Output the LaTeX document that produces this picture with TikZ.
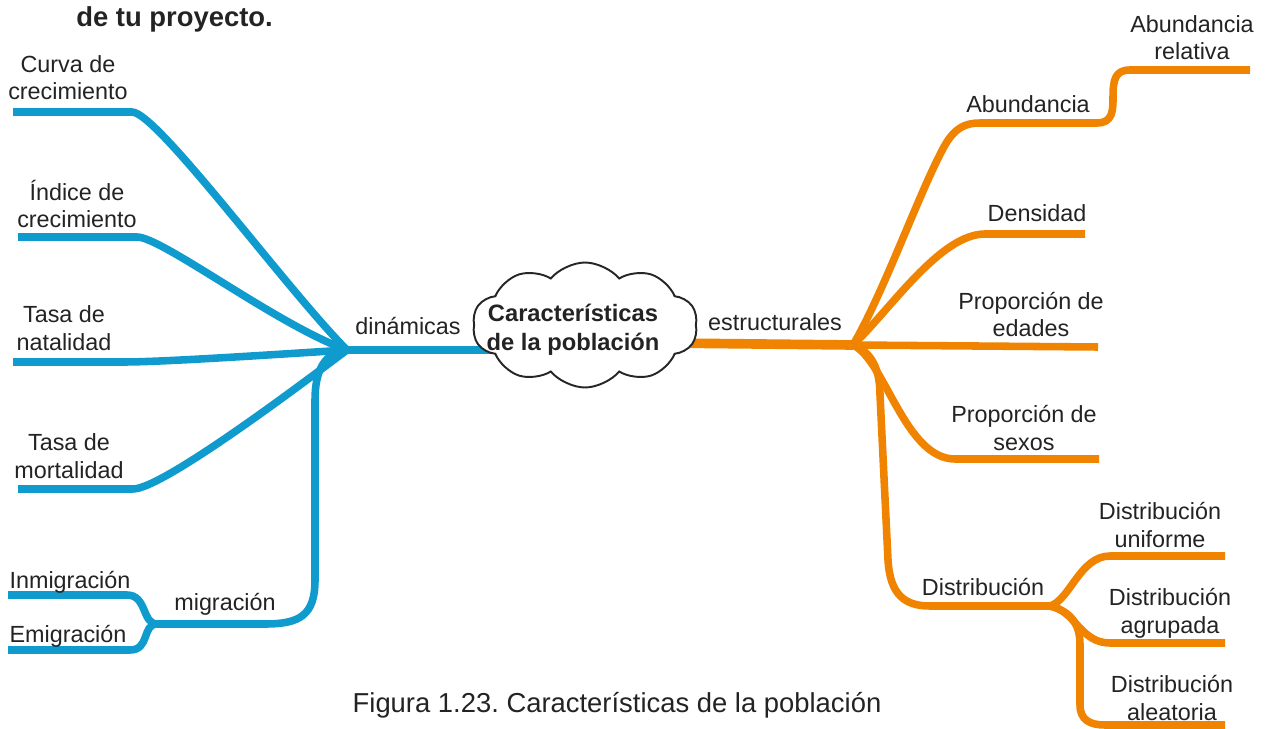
\documentclass[tikz,border=0pt]{standalone}
\usepackage{fontspec}
\setmainfont{Liberation Sans}
\usetikzlibrary{shapes.symbols,backgrounds}
\definecolor{bl}{RGB}{16,155,206}
\definecolor{orn}{RGB}{240,132,0}
\definecolor{txt}{RGB}{35,35,35}
\begin{document}
\frenchspacing
\begin{tikzpicture}[x=0.02cm,y=-0.02cm,
  lbl/.style={font=\fontsize{13.3}{15.9}\selectfont, text=txt, align=center, inner sep=0pt, anchor=base},
  bbr/.style={draw=bl, line width=4.3pt, line join=round},
  obr/.style={draw=orn, line width=4.3pt, line join=round}]
\useasboundingbox (0,0) rectangle (1270,729);

% titles
\node[anchor=base west, inner sep=0pt, font=\fontsize{15.6}{18}\selectfont\bfseries, text=txt] (title) at (76,27) {de tu proyecto.};
\node[anchor=base, inner sep=0pt, font=\fontsize{15.6}{18}\selectfont, text=txt] (cap) at (617,712) {Figura 1.23. Características de la población};

% center
\node[cloud, draw=black!85, fill=white, line width=1.1pt, cloud puffs=10, cloud puff arc=100, aspect=1.8,
      minimum width=4.5cm, minimum height=2.5cm, inner sep=0pt] (cloud) at (585,325) {};
\node[anchor=base, inner sep=0pt, align=center, text=txt,
      font=\fontsize{13.5}{16}\selectfont\bfseries] (ctext) at (573,350) {Características\\de la población};

% labels
\node[lbl] (curva) at (68,100) {Curva de\\crecimiento};
\node[lbl] (indice) at (77,228) {Índice de\\crecimiento};
\node[lbl] (natal) at (64,350) {Tasa de\\natalidad};
\node[lbl] (mortal) at (69,478) {Tasa de\\mortalidad};
\node[lbl] (inmi) at (70,588) {Inmigración};
\node[lbl] (emi) at (68,642) {Emigración};
\node[lbl] (migr) at (225,610) {migración};
\node[lbl] (dina) at (408,335) {dinámicas};
\node[lbl] (estr) at (775,330) {estructurales};
\node[lbl] (abrel) at (1192,60) {Abundancia\\relativa};
\node[lbl] (abun) at (1028,113) {Abundancia};
\node[lbl] (dens) at (1037,222) {Densidad};
\node[lbl] (edad) at (1031,337) {Proporción de\\edades};
\node[lbl] (sexo) at (1024,450) {Proporción de\\sexos};
\node[lbl] (distr) at (983,595) {Distribución};
\node[lbl] (unif) at (1160,547) {Distribución\\uniforme};
\node[lbl] (agru) at (1170,633) {Distribución\\agrupada};
\node[lbl] (alea) at (1172,720) {Distribución\\aleatoria};

% coordinates
\coordinate (hubB) at (347,350);
\coordinate (cL) at (510,350);
\coordinate (b1) at (132,112); \coordinate (b1e) at (13,112);
\coordinate (b2) at (137,237); \coordinate (b2e) at (18,237);
\coordinate (b3) at (123,362); \coordinate (b3e) at (13,362);
\coordinate (b4) at (133,489); \coordinate (b4e) at (18,489);
\coordinate (mhub) at (157,624);
\coordinate (b5) at (127,595); \coordinate (b5e) at (8,595);
\coordinate (b6) at (130,650); \coordinate (b6e) at (8,650);

\coordinate (cR) at (665,343);
\coordinate (hubO) at (853,345);
\coordinate (o1) at (980,123); \coordinate (o1a) at (1097,123);
\coordinate (o1b) at (1130,70); \coordinate (o1e) at (1250,70);
\coordinate (o2) at (985,234); \coordinate (o2e) at (1085,234);
\coordinate (o3e) at (1098,347);
\coordinate (o4) at (955,459); \coordinate (o4e) at (1099,459);
\coordinate (hub2) at (1050,606);
\coordinate (o5) at (1110,556); \coordinate (o5e) at (1225,556);
\coordinate (o6) at (1110,643); \coordinate (o6e) at (1225,643);
\coordinate (o7) at (1105,725); \coordinate (o7e) at (1225,725);

\begin{pgfonlayer}{background}
% blue
\draw[bbr, line width=4.8pt] (hubB) -- (cL);
\draw[bbr] (b1e) -- (b1) .. controls +(25,0) and +(-60,-60) .. (hubB);
\draw[bbr] (b2e) -- (b2) .. controls +(25,0) and +(-70,-25) .. (hubB);
\draw[bbr] (b3e) -- (b3) .. controls +(40,0) and +(-80,5) .. (hubB);
\draw[bbr] (b4e) -- (b4) .. controls +(30,0) and +(-40,30) .. (hubB);
\draw[bbr] (hubB) .. controls (325,352) and (315,370) .. (315,400) -- (315,580) .. controls (315,615) and (300,624) .. (265,624) -- (mhub);
\draw[bbr] (b5e) -- (b5) .. controls +(20,0) and +(-15,0) .. (mhub);
\draw[bbr] (b6e) -- (b6) .. controls +(20,0) and +(-15,0) .. (mhub);
% orange
\draw[obr, line width=5.5pt] (cR) -- (hubO);
\draw[obr] (hubO) .. controls (885,290) and (920,190) .. (945,145) .. controls (955,128) and (965,123) .. (o1) -- (o1a) .. controls (1113,123) and (1113,110) .. (1113,97) .. controls (1113,80) and (1115,70) .. (o1b) -- (o1e);
\draw[obr] (hubO) .. controls (890,310) and (940,234) .. (o2) -- (o2e);
\draw[obr] (hubO) -- (o3e);
\draw[obr] (hubO) .. controls (885,360) and (905,459) .. (o4) -- (o4e);
\draw[obr] (hubO) .. controls (872,352) and (880,370) .. (880,395) -- (888,560) .. controls (890,595) and (905,606) .. (930,606) -- (hub2);
\draw[obr] (hub2) .. controls (1070,600) and (1080,556) .. (o5) -- (o5e);
\draw[obr] (hub2) .. controls (1075,610) and (1080,643) .. (o6) -- (o6e);
\draw[obr] (hub2) .. controls (1072,612) and (1080,625) .. (1080,645) -- (1080,705) .. controls (1080,720) and (1090,725) .. (o7) -- (o7e);
\end{pgfonlayer}
\end{tikzpicture}
\end{document}
